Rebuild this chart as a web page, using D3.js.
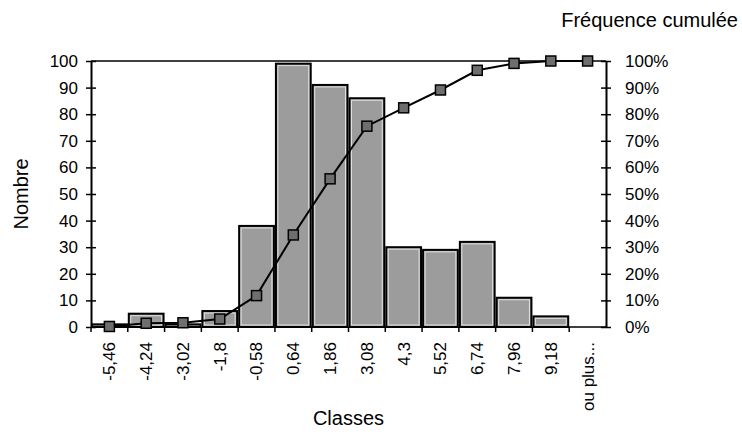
<!DOCTYPE html>
<html>
<head>
<meta charset="utf-8">
<script src="https://cdn.jsdelivr.net/npm/d3@7"></script>
<style>
  body { margin: 0; background: #fff; }
  svg { font-family: 'Liberation Sans', Arial, sans-serif; }
</style>
</head>
<body>
<div id="chart"></div>
<script>
// histogram data
const classes = ["-5,46", "-4,24", "-3,02", "-1,8", "-0,58", "0,64", "1,86", "3,08", "4,3", "5,52", "6,74", "7,96", "9,18", "ou plus..."];
const counts = [1, 5, 1, 6, 38, 99, 91, 86, 30, 29, 32, 11, 4, 0];
const cumulative = [0.2, 1.4, 1.6, 3.0, 11.8, 34.6, 55.7, 75.5, 82.4, 89.1, 96.5, 99.1, 100, 100];
const countTicks = [0, 10, 20, 30, 40, 50, 60, 70, 80, 90, 100];
const pctTicks = [0, 10, 20, 30, 40, 50, 60, 70, 80, 90, 100];

const W = 742, H = 434;
const margin = { top: 61, right: 136, bottom: 107, left: 91 };
const width = W - margin.left - margin.right;
const height = H - margin.top - margin.bottom;

const svg = d3.select("#chart").append("svg")
  .attr("width", W)
  .attr("height", H);

const g = svg.append("g")
  .attr("transform", `translate(${margin.left},${margin.top})`);

const x = d3.scaleBand().domain(classes).range([0, width]).padding(0);
const y = d3.scaleLinear().domain([0, 100]).range([height, 0]);
const y2 = d3.scaleLinear().domain([0, 100]).range([height, 0]);

const barData = classes.map((c, i) => ({ cls: c, n: counts[i] }));

// bars
const bars = g.selectAll(".bar")
  .data(barData)
  .enter().append("g")
  .attr("class", "bar");

bars.append("rect")
  .attr("x", d => x(d.cls) + 1)
  .attr("y", d => y(d.n))
  .attr("width", x.bandwidth() - 2)
  .attr("height", d => height - y(d.n))
  .attr("fill", "#9c9c9c")
  .attr("stroke", "#000")
  .attr("stroke-width", 2);

// light inner edge like the scan
bars.filter(d => d.n > 1).append("rect")
  .attr("x", d => x(d.cls) + 3)
  .attr("y", d => y(d.n) + 2)
  .attr("width", x.bandwidth() - 6)
  .attr("height", d => Math.max(0, height - y(d.n) - 4))
  .attr("fill", "none")
  .attr("stroke", "#e0e0e0")
  .attr("stroke-width", 1);

// frame top / bottom
g.append("line")
  .attr("x1", 0).attr("x2", width).attr("y1", 0).attr("y2", 0)
  .attr("stroke", "#000").attr("stroke-width", 1.5);
g.append("line")
  .attr("x1", 0).attr("x2", width).attr("y1", height).attr("y2", height)
  .attr("stroke", "#000").attr("stroke-width", 1.5);

// left axis
const yAxis = g.append("g")
  .call(d3.axisLeft(y).tickValues(countTicks).tickSize(5).tickSizeOuter(0).tickPadding(8));
yAxis.select(".domain").attr("stroke-width", 2);
yAxis.selectAll(".tick line").attr("x2", 5).attr("x1", -5).attr("stroke-width", 1.5);
yAxis.selectAll("text").style("font-size", "17px").attr("fill", "#000");

// right axis
const y2Axis = g.append("g")
  .attr("transform", `translate(${width},0)`)
  .call(d3.axisRight(y2).tickValues(pctTicks).tickFormat(d => d + "%").tickSize(5).tickSizeOuter(0).tickPadding(14));
y2Axis.select(".domain").attr("stroke-width", 2);
y2Axis.selectAll(".tick line").attr("x1", -5).attr("x2", 5).attr("stroke-width", 1.5);
y2Axis.selectAll("text").style("font-size", "17px").attr("fill", "#000");

// bottom axis: labels rotated, ticks at class boundaries
const xAxis = g.append("g")
  .attr("transform", `translate(0,${height})`)
  .call(d3.axisBottom(x).tickSize(0).tickPadding(14));
xAxis.select(".domain").remove();
xAxis.selectAll("text")
  .style("font-size", "17px")
  .attr("fill", "#000")
  .attr("text-anchor", "end")
  .attr("dy", "0.35em")
  .attr("transform", "rotate(-90)")
  .attr("x", -15)
  .attr("y", 0);

g.selectAll(".xtick")
  .data(classes)
  .enter().append("line")
  .attr("class", "xtick")
  .attr("x1", d => x(d)).attr("x2", d => x(d))
  .attr("y1", height).attr("y2", height + 5)
  .attr("stroke", "#000").attr("stroke-width", 1.5);

// cumulative line
const cx = (d, i) => x(classes[i]) + x.bandwidth() / 2;
const line = d3.line()
  .x((d, i) => cx(d, i))
  .y(d => y2(d));

g.append("path")
  .datum(cumulative)
  .attr("d", line)
  .attr("fill", "none")
  .attr("stroke", "#000")
  .attr("stroke-width", 2);

g.selectAll(".marker")
  .data(cumulative)
  .enter().append("rect")
  .attr("class", "marker")
  .attr("x", (d, i) => cx(d, i) - 5)
  .attr("y", d => y2(d) - 5)
  .attr("width", 10)
  .attr("height", 10)
  .attr("fill", "#6e6e6e")
  .attr("stroke", "#000")
  .attr("stroke-width", 1.5);

// titles
svg.append("text")
  .attr("transform", `translate(28,${margin.top + height / 2}) rotate(-90)`)
  .attr("text-anchor", "middle")
  .style("font-size", "20px")
  .text("Nombre");

svg.append("text")
  .attr("x", margin.left + width / 2)
  .attr("y", 425)
  .attr("text-anchor", "middle")
  .style("font-size", "20px")
  .text("Classes");

svg.append("text")
  .attr("x", 738)
  .attr("y", 27)
  .attr("text-anchor", "end")
  .style("font-size", "20px")
  .text("Fréquence cumulée");
</script>
</body>
</html>
